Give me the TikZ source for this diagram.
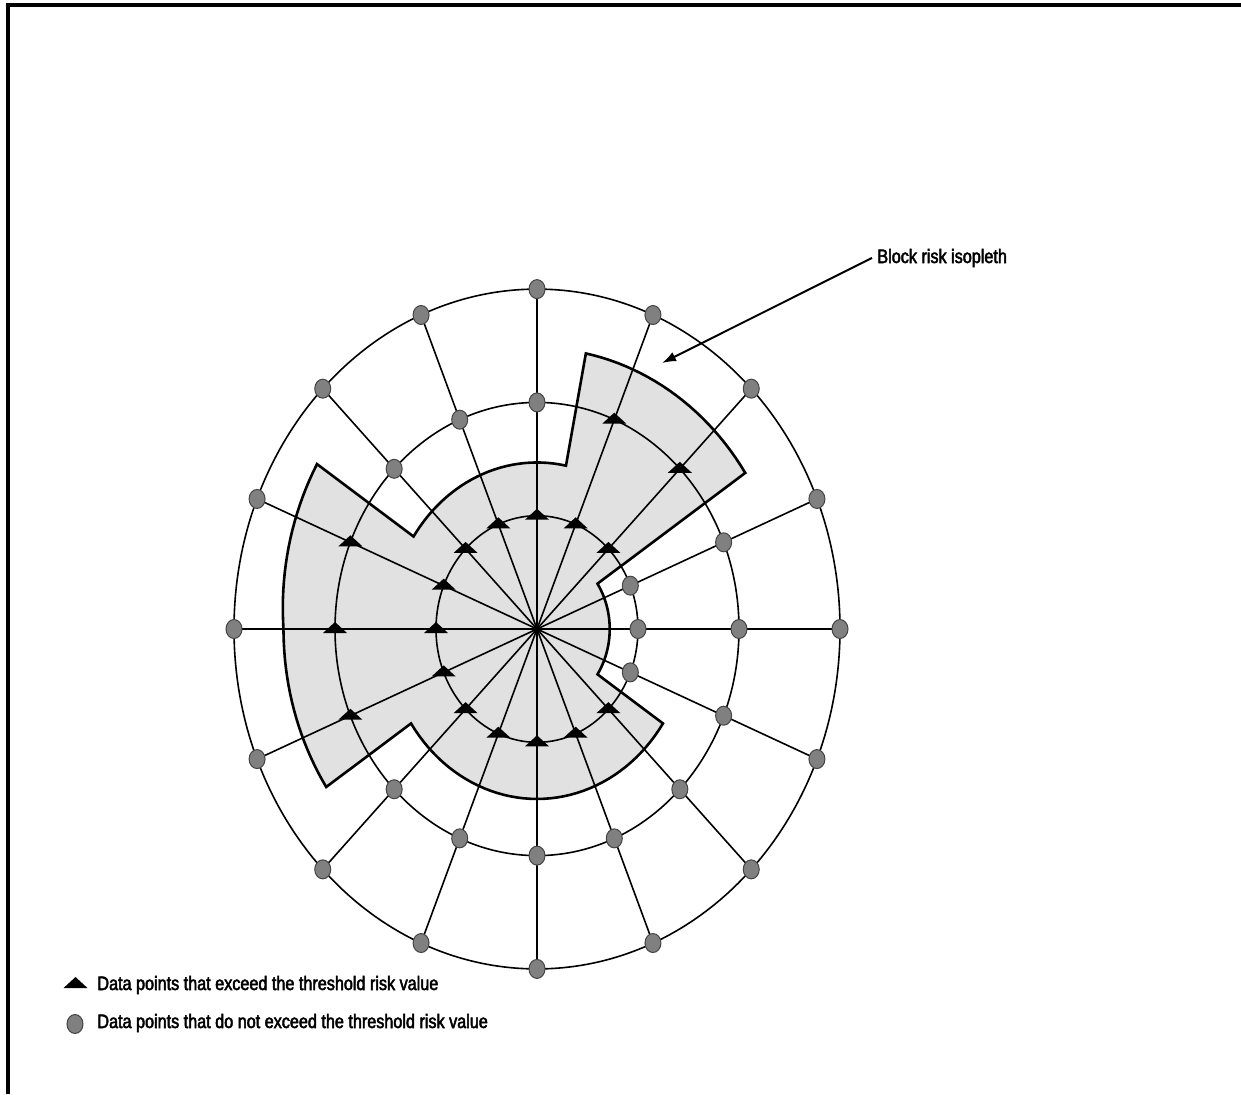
\documentclass[tikz,border=0pt]{standalone}
\usepackage{fontspec}
\newfontfamily\labelfont[FakeStretch=0.83,FakeBold=2.5]{Liberation Sans}
\usetikzlibrary{arrows.meta,shapes.geometric}
\definecolor{isofill}{HTML}{E1E1E1}
\definecolor{dotfill}{HTML}{808080}
\definecolor{dotline}{HTML}{444444}
\begin{document}
\begin{tikzpicture}[x=0.5pt,y=0.5pt,
  ringline/.style={line width=0.8pt},
  spokeline/.style={line width=0.8pt},
  isoline/.style={line width=1.3pt, line join=miter},
  graydot/.style={ellipse, draw=dotline, fill=dotfill, line width=0.5pt,
    minimum width=8pt, minimum height=9.5pt, inner sep=0pt},
  txt/.style={font=\labelfont\fontsize{9.75pt}{11pt}\selectfont, inner sep=0pt},
  tri/.pic={\fill[black] (0,7) -- (-12,-4) -- (12,-4) -- cycle;}
]
\useasboundingbox (0,0) rectangle (1241,-1094);
\def\cx{537}\def\cy{-629}\def\ux{101}\def\uy{113.3}
\coordinate (c) at (\cx,\cy);
\foreach \r in {1,2,3}{
  \foreach \i in {0,...,15}{
    \coordinate (p\r-\i) at ({\cx+\ux*\r*cos(22.5*\i)},{\cy+\uy*\r*sin(22.5*\i)});
  }
}
% isopleth fill
\def\isopath{
  plot[domain=-33.75:33.75,samples=25] ({\cx+\ux*0.72*cos(\x)},{\cy+\uy*0.72*sin(\x)})
  -- plot[domain=33.75:78.75,samples=25] ({\cx+\ux*2.48*cos(\x)},{\cy+\uy*2.48*sin(\x)})
  -- plot[domain=78.75:146.25,samples=30] ({\cx+\ux*1.47*cos(\x)},{\cy+\uy*1.47*sin(\x)})
  -- plot[domain=146.25:213.75,samples=40] ({\cx+\ux*(2.51+0.11*max(0,(180-\x)/33.75))*cos(\x)},{\cy+\uy*(2.51+0.11*max(0,(180-\x)/33.75))*sin(\x)})
  -- plot[domain=213.75:326.25,samples=45] ({\cx+\ux*1.5*cos(\x)},{\cy+\uy*1.5*sin(\x)})
  -- cycle}
\fill[isofill] \isopath;
% rings
\foreach \r in {1,2,3}{
  \draw[ringline] (c) ellipse[x radius={\r*50.5pt}, y radius={\r*56.65pt}];
}
% spokes
\foreach \i in {0,...,15}{
  \draw[spokeline] (c) -- (p3-\i);
}
% isopleth outline
\draw[isoline] \isopath;
% markers
\foreach \i in {0,1,15}{ \node[graydot] (d1-\i) at (p1-\i) {}; }
\foreach \i in {2,...,14}{ \pic (t1-\i) at (p1-\i) {tri}; }
\foreach \i in {0,1,4,5,6,10,11,12,13,14,15}{ \node[graydot] (d2-\i) at (p2-\i) {}; }
\foreach \i in {2,3,7,8,9}{ \pic (t2-\i) at (p2-\i) {tri}; }
\foreach \i in {0,...,15}{ \node[graydot] (d3-\i) at (p3-\i) {}; }
% label and arrow
\node[txt, anchor=base west, inner sep=2.5pt] (isolabel) at (872,-263) {Block risk isopleth};
\coordinate (tip) at (662,-363);
\draw[line width=1pt, -{Latex[length=7pt,width=5pt]}] (isolabel.west) -- (tip);
% legend
\pic (legtri) at (75.5,-984) {tri};
\node[graydot] (legdot) at (75,-1024) {};
\node[txt, anchor=base west] (leg1) at (97,-990) {Data points that exceed the threshold risk value};
\node[txt, anchor=base west] (leg2) at (97,-1028) {Data points that do not exceed the threshold risk value};
% frame
\draw[line width=2pt] (8,-1094) -- (8,-5) -- (1241,-5);
\end{tikzpicture}
\end{document}
